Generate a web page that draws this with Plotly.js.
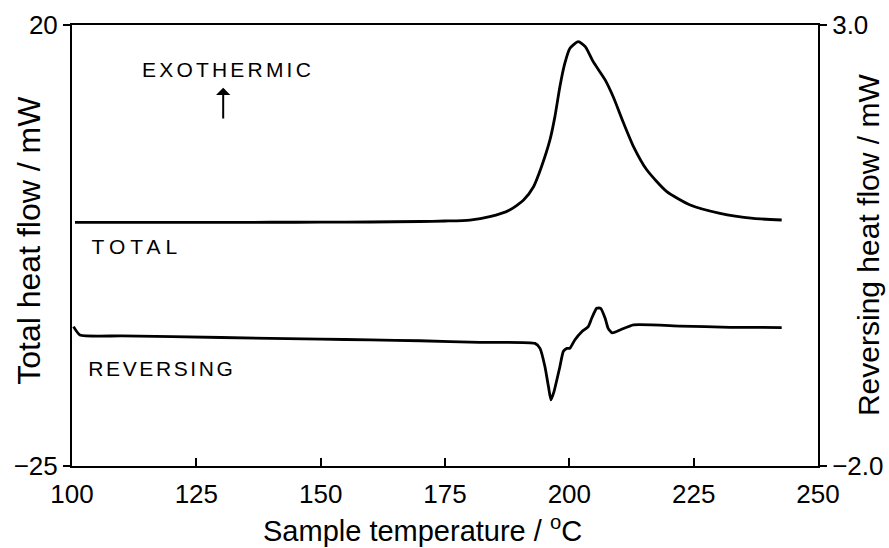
<!DOCTYPE html>
<html>
<head>
<meta charset="utf-8">
<script src="https://cdn.plot.ly/plotly-3.0.1.min.js"></script>
<style>html,body{margin:0;padding:0;background:#fff;}#chart{width:889px;height:548px;}</style>
</head>
<body>
<div id="chart"></div>
<script>
// Total heat flow (left axis, mW)
const totalTemp = [100.6, 110, 120, 130, 140, 150, 160, 170, 175, 180, 184, 188, 190.8, 192.8, 194.4, 196.1, 197.1, 198.1, 199.1, 200.1, 201.8, 203.2, 204.8, 207.2, 208.8, 210.9, 212.9, 215.6, 219.6, 224.3, 230.3, 237.0, 242.7];
const totalFlow = [-0.15, -0.15, -0.14, -0.14, -0.13, -0.12, -0.1, -0.05, 0.0, 0.1, 0.44, 1.12, 2.14, 3.5, 5.54, 8.27, 10.65, 13.7, 16.1, 17.6, 18.3, 17.8, 16.26, 14.4, 12.7, 10.0, 7.6, 5.2, 3.0, 1.63, 0.78, 0.27, 0.1];

// Reversing heat flow (right axis, mW)
const revTemp = [100.3, 101.6, 110, 130, 150, 160, 170, 182, 193.1, 194.1, 195.1, 195.8, 196.3, 196.9, 198.1, 198.8, 199.5, 200.1, 201.1, 202.5, 203.8, 204.5, 205.5, 206.3, 207.2, 207.8, 208.6, 210.2, 212.9, 222.3, 232.3, 242.7];
const revFlow = [-0.42, -0.515, -0.525, -0.543, -0.562, -0.57, -0.58, -0.598, -0.61, -0.666, -0.874, -1.10, -1.25, -1.16, -0.874, -0.70, -0.666, -0.666, -0.571, -0.477, -0.42, -0.325, -0.212, -0.212, -0.325, -0.44, -0.49, -0.458, -0.40, -0.413, -0.428, -0.43];

const xTicks = [100, 125, 150, 175, 200, 225, 250];
const yLeftTicks = [-25, 20];
const yLeftText = ['\u221225', '20'];
const yRightTicks = [-2.0, 3.0];
const yRightText = ['\u22122.0', '3.0'];

const xTitle = 'Sample temperature / <sup>o</sup>C';
const yLeftTitle = 'Total heat flow / mW';
const yRightTitle = 'Reversing heat flow / mW';

const FONT = 'Liberation Sans, Arial, Helvetica, sans-serif';

const traces = [
  {x: totalTemp, y: totalFlow, type: 'scatter', mode: 'lines', name: 'TOTAL',
   line: {color: '#000', width: 2.8, shape: 'spline', smoothing: 0.6}, yaxis: 'y'},
  {x: revTemp, y: revFlow, type: 'scatter', mode: 'lines', name: 'REVERSING',
   line: {color: '#000', width: 2.8, shape: 'spline', smoothing: 0.5}, yaxis: 'y2'}
];

const layout = {
  width: 889, height: 548,
  margin: {l: 72, r: 71, t: 25, b: 82},
  paper_bgcolor: '#fff', plot_bgcolor: '#fff',
  showlegend: false,
  font: {family: FONT, color: '#000'},
  xaxis: {
    range: [100, 250], tickvals: xTicks, ticktext: xTicks.map(String),
    ticks: 'inside', ticklen: 8, tickwidth: 2, tickcolor: '#000',
    showline: true, linewidth: 2, linecolor: '#000', mirror: true,
    showgrid: false, zeroline: false,
    tickfont: {size: 26, family: FONT}, ticklabelstandoff: 4
  },
  yaxis: {
    range: [-25, 20], tickvals: yLeftTicks, ticktext: yLeftText,
    ticks: 'outside', ticklen: 7, tickwidth: 2, tickcolor: '#000',
    showline: true, linewidth: 2, linecolor: '#000',
    showgrid: false, zeroline: false,
    tickfont: {size: 26, family: FONT}
  },
  yaxis2: {
    range: [-2, 3], overlaying: 'y', side: 'right',
    tickvals: yRightTicks, ticktext: yRightText,
    ticks: 'outside', ticklen: 7, tickwidth: 2, tickcolor: '#000',
    showline: true, linewidth: 2, linecolor: '#000',
    showgrid: false, zeroline: false,
    tickfont: {size: 26, family: FONT}
  },
  annotations: [
    {x: 0.4705, y: -0.143, xref: 'paper', yref: 'paper', text: xTitle, showarrow: false,
     font: {size: 29, family: FONT}, xanchor: 'center', yanchor: 'middle'},
    {x: -0.058, y: 0.5125, xref: 'paper', yref: 'paper', text: yLeftTitle, showarrow: false, textangle: -90,
     font: {size: 32, family: FONT}, xanchor: 'center', yanchor: 'middle'},
    {x: 1.067, y: 0.501, xref: 'paper', yref: 'paper', text: yRightTitle, showarrow: false, textangle: -90,
     font: {size: 30, family: FONT}, xanchor: 'center', yanchor: 'middle'},
    {x: 131.4, y: 15.5, xref: 'x', yref: 'y', text: 'EXOTHERMIC', showarrow: false,
     font: {size: 21, family: FONT}, xanchor: 'center', yanchor: 'middle'},
    {x: 113.1, y: -2.65, xref: 'x', yref: 'y', text: 'TOTAL', showarrow: false,
     font: {size: 21, family: FONT}, xanchor: 'center', yanchor: 'middle'},
    {x: 118.1, y: -15.1, xref: 'x', yref: 'y', text: 'REVERSING', showarrow: false,
     font: {size: 21, family: FONT}, xanchor: 'center', yanchor: 'middle'},
    {x: 130.4, y: 13.6, xref: 'x', yref: 'y', ax: 130.4, ay: 10.3, axref: 'x', ayref: 'y',
     text: '', showarrow: true, arrowhead: 1, arrowsize: 1.2, arrowwidth: 2, arrowcolor: '#000', standoff: 0}
  ]
};

Plotly.newPlot('chart', traces, layout, {staticPlot: true, displayModeBar: false}).then(function () {
  const spacing = {'EXOTHERMIC': 3.2, 'TOTAL': 5, 'REVERSING': 2.6};
  document.querySelectorAll('.annotation-text').forEach(function (t) {
    const s = spacing[t.textContent];
    if (s) t.setAttribute('letter-spacing', s + 'px');
  });
  document.querySelectorAll('#chart text').forEach(function (t) {
    if (t.textContent === '') t.remove();
  });
});
</script>
</body>
</html>
